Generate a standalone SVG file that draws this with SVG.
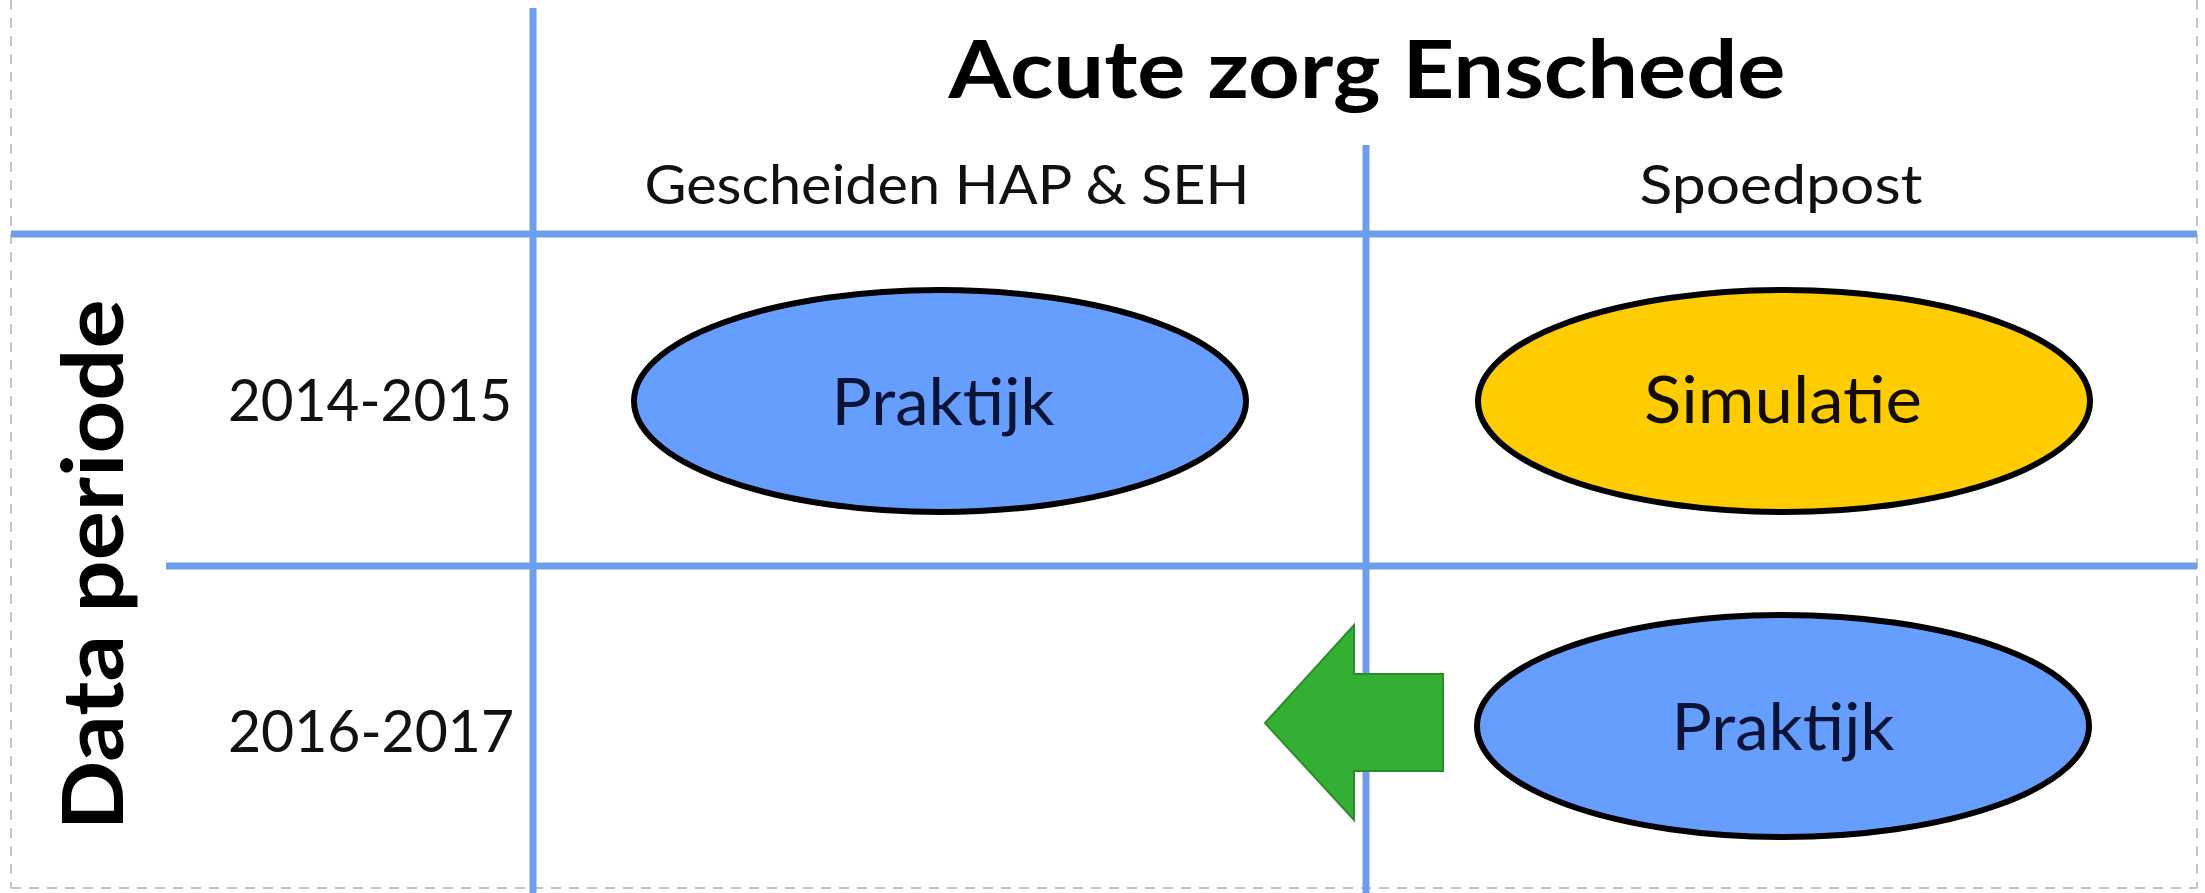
<svg xmlns="http://www.w3.org/2000/svg" width="2205" height="893" viewBox="0 0 2205 893">
  <style>
    .grid { stroke: #6d9eeb; stroke-width: 7; fill: none; }
    .frame { stroke: #c4c4c4; stroke-width: 2; stroke-dasharray: 10 8; fill: none; }
    .title { font-family: Lato, "Liberation Sans", sans-serif; font-weight: 700; fill: #000; }
    .head { font-family: Lato, "Liberation Sans", sans-serif; font-size: 55px; fill: #111; text-anchor: middle; }
    .year { font-family: Lato, "Liberation Sans", sans-serif; font-size: 58px; fill: #111; }
    .oval { stroke: #000; stroke-width: 6; }
    .blue { fill: #659eff; }
    .yellow { fill: #ffcc00; }
    .label { font-family: Lato, "Liberation Sans", sans-serif; font-size: 66px; text-anchor: middle; }
    .arrow { fill: #33b033; stroke: #2a8c2a; stroke-width: 2; }
  </style>

  <rect width="2205" height="893" fill="#ffffff"/>

  <!-- dashed page frame -->
  <g id="frame">
    <line class="frame" x1="11" y1="0" x2="11" y2="888"/>
    <line class="frame" x1="2197" y1="0" x2="2197" y2="888"/>
    <line class="frame" x1="11" y1="888" x2="2197" y2="888"/>
  </g>

  <!-- table grid -->
  <g id="grid">
    <line class="grid" x1="533" y1="8" x2="533" y2="893"/>
    <line class="grid" x1="1366" y1="145" x2="1366" y2="893"/>
    <line class="grid" x1="11" y1="234" x2="2197" y2="234"/>
    <line class="grid" x1="166" y1="566" x2="2197" y2="566"/>
  </g>

  <!-- headings -->
  <g id="header">
    <text class="title" x="1367" y="98" font-size="81" text-anchor="middle" textLength="837" lengthAdjust="spacingAndGlyphs">Acute zorg Enschede</text>
    <text class="head" x="947" y="204" textLength="605" lengthAdjust="spacingAndGlyphs">Gescheiden HAP &amp; SEH</text>
    <text class="head" x="1781" y="204" textLength="283" lengthAdjust="spacingAndGlyphs">Spoedpost</text>
  </g>

  <g id="row-axis">
    <text class="title" transform="translate(123,565) rotate(-90)" font-size="84" text-anchor="middle" textLength="531" lengthAdjust="spacingAndGlyphs">Data periode</text>
    <text class="year" x="228" y="421" textLength="284" lengthAdjust="spacingAndGlyphs">2014-2015</text>
    <text class="year" x="228" y="752" textLength="286" lengthAdjust="spacingAndGlyphs">2016-2017</text>
  </g>

  <!-- connectors -->
  <g id="connectors">
    <polygon class="arrow" points="1265,723 1354,625 1354,674 1443,674 1443,771 1354,771 1354,820"/>
  </g>

  <g id="node-praktijk-2014">
    <ellipse class="oval blue" cx="940" cy="401" rx="306" ry="111"/>
    <text class="label" x="943" y="425" fill="#0b1437" textLength="223" lengthAdjust="spacingAndGlyphs">Praktijk</text>
  </g>

  <g id="node-simulatie-2014">
    <ellipse class="oval yellow" cx="1784" cy="401" rx="306" ry="111"/>
    <text class="label" x="1783" y="423" fill="#140c00" textLength="278" lengthAdjust="spacingAndGlyphs">Simulatie</text>
  </g>

  <g id="node-praktijk-2016">
    <ellipse class="oval blue" cx="1783" cy="726" rx="306" ry="111"/>
    <text class="label" x="1783" y="750" fill="#0b1437" textLength="223" lengthAdjust="spacingAndGlyphs">Praktijk</text>
  </g>
</svg>
